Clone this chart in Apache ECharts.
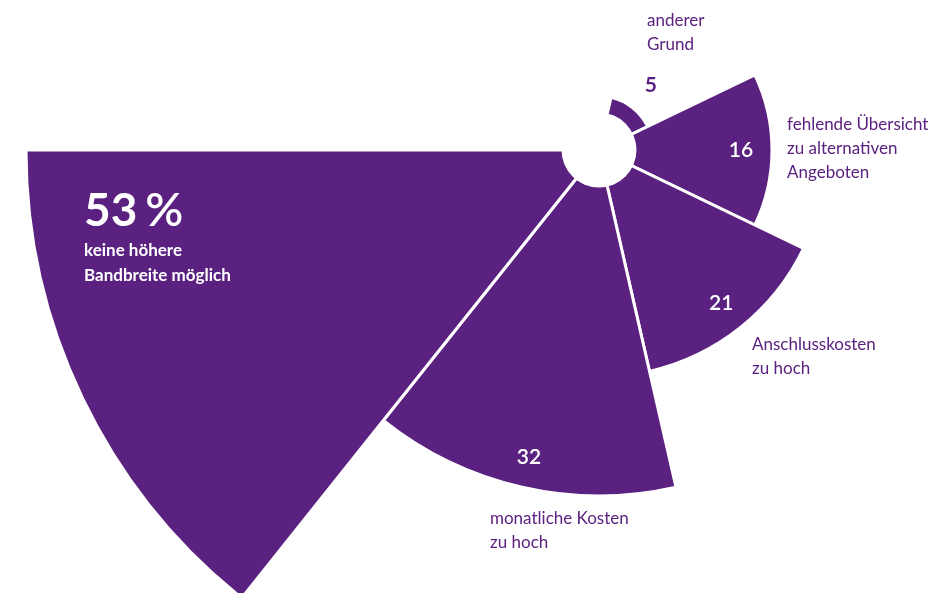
<!DOCTYPE html>
<html><head><meta charset="utf-8">
<script src="https://cdn.jsdelivr.net/npm/echarts@6/dist/echarts.min.js"></script>
<style>html,body{margin:0;padding:0;background:#fff}#c{width:938px;height:593px}</style>
</head><body><div id="c"></div>
<script>
// Data
const categories = ['anderer\nGrund', 'fehlende Übersicht\nzu alternativen\nAngeboten', 'Anschlusskosten\nzu hoch', 'monatliche Kosten\nzu hoch', 'keine höhere\nBandbreite möglich', '', ''];
const values = [5, 16, 21, 32, 53, null, null];
const highlightIndex = 4;

// Styles / layout
const PURPLE = '#5b2180';
const FONT = 'Lato';
const CX = 599, CY = 150, R = 573;
const catLabelPos = [[647, 33], [787, 149], [752, 357], [490, 531]];

const data = values.map((v, i) => {
  const item = { value: v };
  if (i === 0) {
    item.label = { position: 'end', distance: 29, color: PURPLE, fontWeight: 'bold' };
  } else if (i === highlightIndex) {
    item.label = { show: false };
  }
  return item;
});

const graphics = [
  { type: 'circle', shape: { cx: CX, cy: CY, r: 37.5 }, style: { fill: '#fff' }, z: 100 }
];
catLabelPos.forEach((p, i) => {
  graphics.push({
    type: 'text', x: p[0], y: p[1], z: 100,
    style: { text: categories[i], fill: PURPLE, font: '17px ' + FONT, lineHeight: 24, align: 'left', verticalAlign: 'middle' }
  });
});
graphics.push({
  type: 'text', x: 84, y: 211, z: 100,
  style: {
    text: '{n|' + values[highlightIndex] + '}{p|%}', align: 'left', verticalAlign: 'middle',
    rich: {
      n: { fill: '#fff', fontFamily: FONT, fontWeight: 'bold', fontSize: 46 },
      p: { fill: '#fff', fontFamily: FONT, fontWeight: 600, fontSize: 47, padding: [0, 0, 0, 8] }
    }
  }
});
graphics.push({
  type: 'text', x: 84, y: 263, z: 100,
  style: { text: categories[highlightIndex], fill: '#fff', font: 'bold 17px ' + FONT, lineHeight: 25, align: 'left', verticalAlign: 'middle' }
});

const chart = echarts.init(document.getElementById('c'), null, { renderer: 'canvas' });
chart.setOption({
  animation: false,
  backgroundColor: '#fff',
  polar: { center: [CX, CY], radius: [0, R] },
  radiusAxis: { type: 'value', min: 0, max: values[highlightIndex], show: false },
  angleAxis: { type: 'category', data: categories, startAngle: 90 - 360 / 28, clockwise: true, show: false },
  graphic: graphics,
  series: [{
    type: 'bar',
    coordinateSystem: 'polar',
    barCategoryGap: '0%',
    data: data,
    itemStyle: { color: PURPLE, borderColor: '#fff', borderWidth: 3 },
    label: {
      show: true, position: 'insideEnd', distance: 31, rotate: 0,
      align: 'center', verticalAlign: 'middle',
      color: '#fff', fontFamily: FONT, fontSize: 21, fontWeight: 600
    }
  }]
});
</script>
</body></html>
